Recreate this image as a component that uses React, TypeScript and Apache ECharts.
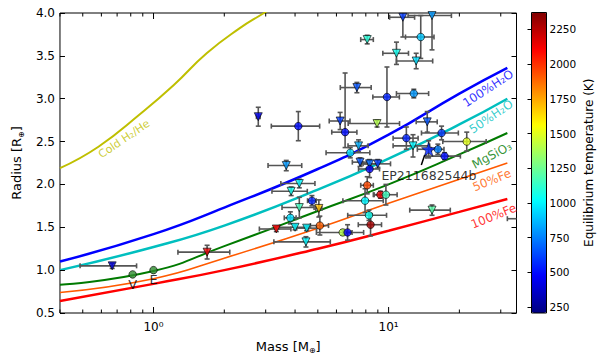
import React, { useEffect, useRef } from 'react';
import * as echarts from 'echarts';

const FONT = 'DejaVu Sans';

// [mass (M_earth), radius (R_earth), mass error, radius error low, radius error high, Teq (K)]
const trianglePlanets = [
  [0.667, 1.05, 0.18, 0.03, 0.03, 400],
  [1.69, 1.21, 0.42, 0.08, 0.08, 2150],
  [2.79, 2.79, 0.05, 0.11, 0.11, 450],
  [3.67, 2.22, 0.6, 0.06, 0.06, 800],
  [11.5, 3.95, 1.4, 0.23, 0.23, 600],
  [15.3, 3.97, 3.2, 0.4, 0.4, 800],
  [8.11, 3.69, 0.5, 0.05, 0.05, 1100],
  [10.8, 3.53, 1.35, 0.13, 0.13, 1050],
  [13.1, 3.44, 2.3, 0.09, 0.09, 950],
  [7.33, 3.13, 1.1, 0.06, 0.06, 650],
  [6.22, 2.74, 0.63, 0.1, 0.1, 600],
  [8.93, 2.71, 2.2, 0.04, 0.04, 1400],
  [7.45, 2.45, 0.73, 0.07, 0.07, 850],
  [7.56, 2.26, 0.55, 0.05, 0.05, 650],
  [8.3, 2.24, 0.65, 0.05, 0.05, 700],
  [8.99, 2.24, 1.2, 0.05, 0.05, 600],
  [14.6, 2.73, 1.5, 0.12, 0.12, 650],
  [12.7, 2.45, 2.25, 0.13, 0.13, 1000],
  [4.17, 2.01, 0.69, 0.05, 0.05, 1000],
  [3.85, 1.92, 0.66, 0.05, 0.05, 1050],
  [4.17, 1.73, 0.65, 0.12, 0.12, 1150],
  [5.05, 1.72, 0.15, 0.1, 0.1, 1700],
  [3.33, 1.48, 0.51, 0.03, 0.03, 2100],
  [4.0, 1.5, 0.57, 0.03, 0.03, 1000],
  [4.48, 1.49, 0.46, 0.03, 0.03, 1000],
  [4.45, 1.33, 1.2, 0.06, 0.06, 1000],
  [15.3, 1.7, 3.0, 0.06, 0.06, 1200],
  [40, 1.6, 8, 0.05, 0.05, 1000],
];

const circlePlanets = [
  [4.13, 2.68, 0.96, 0.17, 0.17, 500],
  [13.7, 3.72, 1.9, 0.25, 0.25, 900],
  [9.84, 3.02, 1.27, 0.35, 0.35, 550],
  [12.8, 3.06, 2.0, 0.05, 0.05, 800],
  [6.53, 2.61, 0.8, 0.18, 0.69, 500],
  [6.87, 2.37, 1.45, 0.06, 0.06, 950],
  [8.3, 2.18, 0.85, 0.1, 0.1, 450],
  [8.11, 1.99, 0.5, 0.1, 0.1, 1950],
  [11.9, 2.54, 1.45, 0.13, 0.13, 550],
  [16.8, 2.6, 3.0, 0.08, 0.08, 600],
  [16.2, 2.41, 1.0, 0.06, 0.06, 750],
  [17.3, 2.33, 2.9, 0.04, 0.04, 500],
  [21.5, 2.5, 4.5, 0.11, 0.11, 1500],
  [9.23, 1.88, 0.55, 0.04, 0.04, 2150],
  [9.74, 1.88, 1.13, 0.12, 0.12, 1150],
  [4.72, 1.81, 0.2, 0.06, 0.06, 550],
  [3.82, 1.61, 0.22, 0.07, 0.07, 950],
  [5.1, 1.52, 0.45, 0.11, 0.11, 1900],
  [6.38, 1.44, 1.45, 0.03, 0.03, 1400],
  [6.69, 1.44, 0.3, 0.09, 0.09, 450],
  [7.94, 1.81, 1.55, 0.14, 0.14, 1000],
  [8.25, 1.64, 1.55, 0.06, 0.06, 1050],
  [8.38, 1.53, 0.95, 0.13, 0.13, 2300],
];

const starPlanet = [[14.8, 2.41, 1.55, 0.1, 0.1, 550]];
const starName = 'EP211682544b';

const solarNames = ['V', 'E'];
const solarMass = [0.815, 1.0];
const solarRadius = [0.95, 1.0];

// composition curves [mass, radius]
const coldH2He = [[0.4, 2.19], [0.583, 2.44], [0.885, 2.83], [1.22, 3.16], [1.683, 3.53], [2.32, 3.82], [2.95, 4.0], [3.6, 4.15]];
const water100 = [[0.4, 1.1], [1, 1.42], [2, 1.73], [5, 2.18], [10, 2.58], [20, 3.06], [32, 3.36]];
const water50 = [[0.4, 1.0], [1, 1.27], [2, 1.52], [5, 1.94], [10, 2.3], [20, 2.7], [32, 3.0]];
const mgsio3 = [[0.4, 0.83], [1, 0.99], [2, 1.28], [5, 1.69], [10, 2.0], [20, 2.35], [32, 2.6]];
const iron50 = [[0.4, 0.74], [1, 0.9], [2, 1.14], [5, 1.49], [10, 1.78], [20, 2.06], [32, 2.25]];
const iron100 = [[0.4, 0.64], [1, 0.84], [2, 1.0], [5, 1.25], [10, 1.46], [20, 1.68], [32, 1.83]];

const yTicks = [0.5, 1.0, 1.5, 2.0, 2.5, 3.0, 3.5, 4.0];
const xMajorTicks = [1, 10];
const xMinorTicks = [0.4, 0.5, 0.6, 0.7, 0.8, 0.9, 2, 3, 4, 5, 6, 7, 8, 9, 20, 30];
const cbTicks = [250, 500, 750, 1000, 1250, 1500, 1750, 2000, 2250];

const TEQ_MIN = 207;
const TEQ_MAX = 2372;

const SUP = ['⁰', '¹', '²', '³'];

const jet = (t: number) => {
  const c = (v: number) => Math.max(0, Math.min(1, v));
  const r = c(1.5 - Math.abs(4 * t - 3));
  const g = c(1.5 - Math.abs(4 * t - 2));
  const b = c(1.5 - Math.abs(4 * t - 1));
  return `rgb(${Math.round(r * 255)},${Math.round(g * 255)},${Math.round(b * 255)})`;
};

export default function App() {
  const ref = useRef<HTMLDivElement>(null);
  useEffect(() => {
    const chart = echarts.init(ref.current!, null, { renderer: 'svg' });
    const jetColors = Array.from({ length: 41 }, (_, i) => jet(i / 40));
    const toScatter = (arr: number[][]) => arr.map((p) => [p[0], p[1], p[5]]);
    const errData = [...trianglePlanets, ...circlePlanets, ...starPlanet].map((p) => [p[0], p[1], p[2], p[3], p[4]]);
    const tickData = [
      ...xMajorTicks.map((v) => [v, 1, 1]),
      ...xMinorTicks.map((v) => [v, 1, 0]),
    ];

    const curves = [
      { name: 'Cold H2/He', data: coldH2He, color: '#bfbf00', width: 2 },
      { name: '100%H2O', data: water100, color: '#0000ff', width: 2.5 },
      { name: '50%H2O', data: water50, color: '#00bfbf', width: 2.5 },
      { name: 'MgSiO3', data: mgsio3, color: '#007a00', width: 2 },
      { name: '50%Fe', data: iron50, color: '#ff5a00', width: 1.6 },
      { name: '100%Fe', data: iron100, color: '#ff0000', width: 2.5 },
    ];

    const curveLabels = [
      { text: 'Cold H₂/He', at: [0.75, 2.53], rotate: 34, color: '#bfbf00', size: 11 },
      { text: '100%H₂O', at: [26.5, 3.12], rotate: 33, color: '#0000ff', size: 12 },
      { text: '50%H₂O', at: [27.3, 2.79], rotate: 34, color: '#00bfbf', size: 12 },
      { text: 'MgSiO₃', at: [27.5, 2.34], rotate: 28, color: '#007a00', size: 12 },
      { text: '50%Fe', at: [27.5, 2.05], rotate: 22, color: '#ff5a00', size: 12 },
      { text: '100%Fe', at: [28.0, 1.63], rotate: 22, color: '#ff0000', size: 12 },
    ];

    const lineSeries = curves.map((c) => ({
      type: 'line',
      name: c.name,
      xAxisIndex: 0,
      yAxisIndex: 0,
      data: c.data,
      smooth: 0.5,
      symbol: 'none',
      clip: true,
      lineStyle: { color: c.color, width: c.width },
      z: 2,
    }));

    const option: any = {
      animation: false,
      backgroundColor: '#fff',
      grid: [
        { left: 51, top: 13, width: 465.5, height: 300, show: true, borderColor: '#000', borderWidth: 1, backgroundColor: '#fff' },
        { left: 531.5, top: 12.5, width: 15, height: 300.5, show: true, borderColor: '#000', borderWidth: 1, backgroundColor: 'transparent', z: 10 },
      ],
      xAxis: [
        {
          type: 'log', logBase: 10, gridIndex: 0, min: 0.4, max: 35,
          axisLine: { show: false }, axisTick: { show: false }, splitLine: { show: false },
          minorTick: { show: false }, minorSplitLine: { show: false },
          axisLabel: {
            color: '#000', fontFamily: FONT, fontSize: 12, margin: 8,
            formatter: (v: number) => {
              const l = Math.log10(v);
              if (Math.abs(l - Math.round(l)) < 1e-6) return `10${SUP[Math.round(l)]}`;
              return '';
            },
          },
          name: 'Mass [M{sub|⊕}]', nameLocation: 'middle', nameGap: 24,
          nameTextStyle: { color: '#000', fontFamily: FONT, fontSize: 13, lineHeight: 17, rich: { sub: { fontSize: 8, verticalAlign: 'bottom', lineHeight: 17, fontFamily: FONT, color: '#000' } } },
        },
        { type: 'value', gridIndex: 1, show: false, min: 0, max: 1 },
      ],
      yAxis: [
        {
          type: 'value', gridIndex: 0, min: 0.5, max: 4, interval: 0.5, position: 'left',
          axisLine: { show: false },
          axisTick: { show: true, inside: true, length: 5, customValues: yTicks, lineStyle: { color: '#000' } },
          splitLine: { show: false },
          axisLabel: { color: '#000', fontFamily: FONT, fontSize: 12, margin: 5, formatter: (v: number) => v.toFixed(1) },
          name: 'Radius [R{sub|⊕}]', nameLocation: 'middle', nameGap: 30,
          nameTextStyle: { color: '#000', fontFamily: FONT, fontSize: 13, lineHeight: 17, rich: { sub: { fontSize: 8, verticalAlign: 'bottom', lineHeight: 17, fontFamily: FONT, color: '#000' } } },
          z: 3,
        },
        {
          type: 'value', gridIndex: 0, min: 0.5, max: 4, interval: 0.5, position: 'right',
          axisLine: { show: false },
          axisTick: { show: true, inside: true, length: 5, lineStyle: { color: '#000' } },
          axisLabel: { show: false }, splitLine: { show: false }, z: 3,
        },
        {
          type: 'value', gridIndex: 1, min: TEQ_MIN, max: TEQ_MAX, position: 'right',
          axisLine: { show: false },
          axisTick: { show: true, inside: true, length: 4, customValues: cbTicks, lineStyle: { color: '#000' } },
          axisLabel: { customValues: cbTicks, color: '#000', fontFamily: FONT, fontSize: 10.5, margin: 3, formatter: (v: number) => String(Math.round(v)) },
          splitLine: { show: false },
          name: 'Equilibrium temperature (K)', nameLocation: 'middle', nameGap: 36,
          nameTextStyle: { color: '#000', fontFamily: FONT, fontSize: 12 },
          z: 11,
        },
      ],
      visualMap: {
        type: 'continuous', min: TEQ_MIN, max: TEQ_MAX, dimension: 2, seriesIndex: [7, 8, 9],
        inRange: { color: jetColors }, calculable: false, orient: 'vertical',
        left: 531.5, top: 12.5, itemWidth: 15, itemHeight: 300.5, padding: 0, z: 2, hoverLink: false,
      },
      series: [
        ...lineSeries,
        {
          type: 'custom', xAxisIndex: 0, yAxisIndex: 0, data: errData, encode: { x: 0, y: 1 }, z: 3,
          renderItem: (params: any, api: any) => {
            const m = api.value(0), r = api.value(1), dm = api.value(2), dl = api.value(3), dh = api.value(4);
            const cs = params.coordSys;
            const x0 = cs.x, x1 = cs.x + cs.width, y0 = cs.y, y1 = cs.y + cs.height;
            const cx = (v: number) => Math.max(x0, Math.min(x1, v));
            const cy = (v: number) => Math.max(y0, Math.min(y1, v));
            const pL = api.coord([m - dm, r]);
            const pR = api.coord([m + dm, r]);
            const pB = api.coord([m, r - dl]);
            const pT = api.coord([m, r + dh]);
            const style = { stroke: '#555555', lineWidth: 1.6 };
            const cap = 2.5;
            const children: any[] = [];
            const yc = pL[1];
            if (yc >= y0 && yc <= y1) {
              children.push({ type: 'line', shape: { x1: cx(pL[0]), y1: yc, x2: cx(pR[0]), y2: yc }, style });
              for (const xe of [pL[0], pR[0]]) {
                if (xe >= x0 && xe <= x1) children.push({ type: 'line', shape: { x1: xe, y1: yc - cap, x2: xe, y2: yc + cap }, style });
              }
            }
            const xc = pB[0];
            if (xc >= x0 && xc <= x1) {
              children.push({ type: 'line', shape: { x1: xc, y1: cy(pB[1]), x2: xc, y2: cy(pT[1]) }, style });
              for (const ye of [pB[1], pT[1]]) {
                if (ye >= y0 && ye <= y1) children.push({ type: 'line', shape: { x1: xc - cap, y1: ye, x2: xc + cap, y2: ye }, style });
              }
            }
            return { type: 'group', children };
          },
        },
        {
          type: 'scatter', name: 'upper', xAxisIndex: 0, yAxisIndex: 0, data: toScatter(trianglePlanets),
          symbol: 'triangle', symbolRotate: 180, symbolSize: 8, z: 4,
          itemStyle: { borderColor: '#000', borderWidth: 0.8 },
        },
        {
          type: 'scatter', name: 'planets', xAxisIndex: 0, yAxisIndex: 0, data: toScatter(circlePlanets),
          symbol: 'circle', symbolSize: 7.5, z: 4,
          itemStyle: { borderColor: '#000', borderWidth: 0.8 },
        },
        {
          type: 'scatter', name: starName, xAxisIndex: 0, yAxisIndex: 0, data: toScatter(starPlanet),
          symbol: 'path://M0,-10L2.35,-3.24L9.51,-3.09L3.8,1.24L5.88,8.09L0,4L-5.88,8.09L-3.8,1.24L-9.51,-3.09L-2.35,-3.24Z',
          symbolSize: 14, z: 5,
          itemStyle: { borderColor: '#000', borderWidth: 0.6 },
        },
        {
          type: 'scatter', name: 'solar', xAxisIndex: 0, yAxisIndex: 0,
          data: solarNames.map((n, i) => ({ name: n, value: [solarMass[i], solarRadius[i]] })),
          symbol: 'circle', symbolSize: 7.5, z: 4,
          itemStyle: { color: '#2e8b2e', borderColor: '#000', borderWidth: 0.8 },
          label: { show: true, position: 'bottom', distance: -1, formatter: '{b}', color: '#000', fontFamily: FONT, fontSize: 13 },
        },
        {
          type: 'scatter', name: 'curve labels', xAxisIndex: 0, yAxisIndex: 0,
          data: curveLabels.map((c) => ({
            value: c.at,
            label: { show: true, formatter: c.text, rotate: c.rotate, color: c.color, fontSize: c.size, fontFamily: FONT, position: 'inside' },
          })),
          symbolSize: 1, itemStyle: { color: 'transparent' }, z: 5, silent: true,
        },
        {
          type: 'line', xAxisIndex: 0, yAxisIndex: 0, data: [[14.24, 2.343], [13.78, 2.227]],
          symbol: 'none', lineStyle: { color: '#000', width: 1.5 }, z: 5,
        },
        {
          type: 'scatter', xAxisIndex: 0, yAxisIndex: 0, data: [{ value: [14.84, 2.1] }],
          symbolSize: 1, itemStyle: { color: 'transparent' }, z: 5, silent: true,
          label: { show: true, formatter: starName, position: 'inside', color: '#000', fontFamily: FONT, fontSize: 12.5 },
        },
        {
          type: 'custom', xAxisIndex: 0, yAxisIndex: 0, data: tickData, encode: { x: 0, y: 1 }, z: 6, silent: true,
          renderItem: (params: any, api: any) => {
            const cs = params.coordSys;
            const x = api.coord([api.value(0), 1])[0];
            const len = api.value(2) === 1 ? 6 : 3.5;
            const style = { stroke: '#000', lineWidth: 1 };
            return {
              type: 'group',
              children: [
                { type: 'line', shape: { x1: x, y1: cs.y + cs.height, x2: x, y2: cs.y + cs.height - len }, style },
                { type: 'line', shape: { x1: x, y1: cs.y, x2: x, y2: cs.y + len }, style },
              ],
            };
          },
        },
      ],
    };
    chart.setOption(option);
    return () => chart.dispose();
  }, []);
  return <div ref={ref} style={{ position: 'absolute', left: 0, top: 0, width: 600, height: 361 }} />;
}
